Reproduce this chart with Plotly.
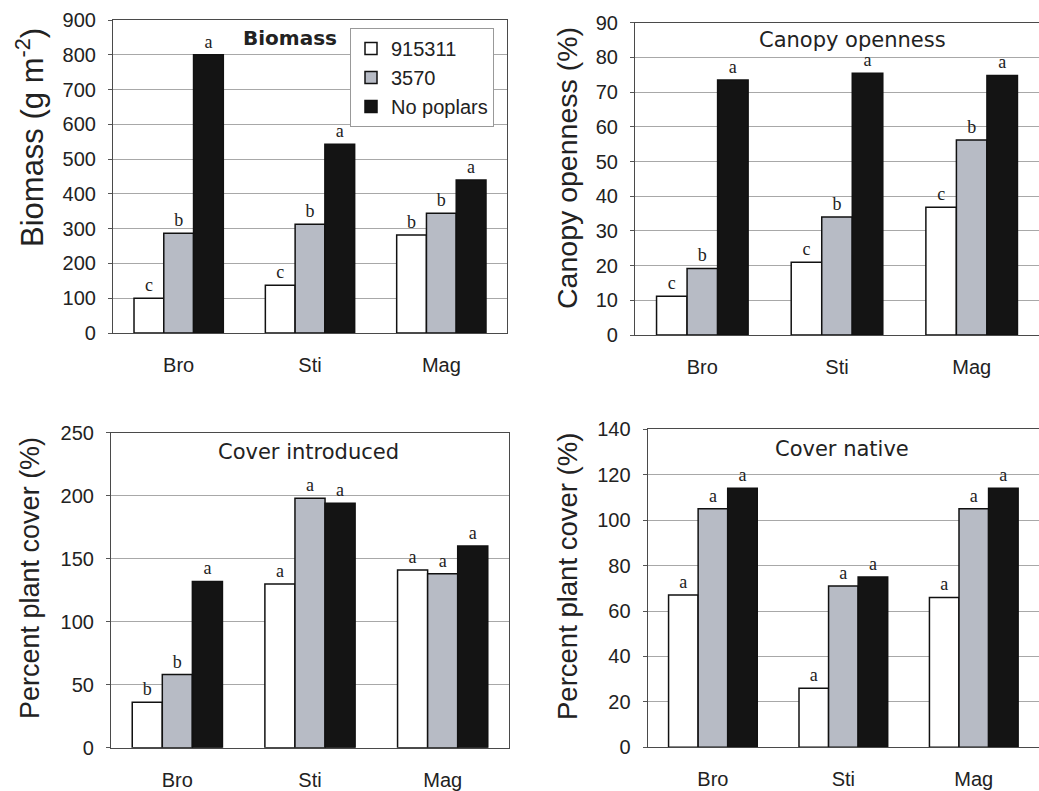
import plotly.graph_objects as go

# ---------------- data ----------------
categories = ["Bro", "Sti", "Mag"]
series_names = ["915311", "3570", "No poplars"]

biomass_915311 = [100, 137, 282]
biomass_3570 = [287, 313, 344]
biomass_nopoplars = [800, 543, 440]
biomass_letters_915311 = ["c", "c", "b"]
biomass_letters_3570 = ["b", "b", "b"]
biomass_letters_nopoplars = ["a", "a", "a"]

canopy_915311 = [11.2, 21, 36.8]
canopy_3570 = [19.2, 34, 56.2]
canopy_nopoplars = [73.5, 75.4, 74.8]
canopy_letters_915311 = ["c", "c", "c"]
canopy_letters_3570 = ["b", "b", "b"]
canopy_letters_nopoplars = ["a", "a", "a"]

intro_915311 = [36, 130, 141]
intro_3570 = [58, 198, 138]
intro_nopoplars = [132, 194, 160]
intro_letters_915311 = ["b", "a", "a"]
intro_letters_3570 = ["b", "a", "a"]
intro_letters_nopoplars = ["a", "a", "a"]

native_915311 = [67, 26, 66]
native_3570 = [105, 71, 105]
native_nopoplars = [114, 75, 114]
native_letters_915311 = ["a", "a", "a"]
native_letters_3570 = ["a", "a", "a"]
native_letters_nopoplars = ["a", "a", "a"]

panel_titles = ["Biomass", "Canopy openness", "Cover introduced", "Cover native"]
y_titles = ["Biomass (g m<sup>-2</sup>)", "Canopy openness (%)",
            "Percent plant cover (%)", "Percent plant cover (%)"]
y_ranges = [[0, 900], [0, 90], [0, 250], [0, 140]]
y_dticks = [100, 10, 50, 20]

# ---------------- style ----------------
W, H = 1039, 791
fills = ["#ffffff", "#b7bbc5", "#141414"]
TICKFONT = dict(family="Liberation Sans, Arial, sans-serif", size=20, color="#222")
LETTERFONT = dict(family="Liberation Serif, Times New Roman, serif", size=18, color="#222")

# panel pixel boxes: (left, right, top, bottom)
boxes = [(113, 507, 20, 333), (635, 1039, 22.7, 335),
         (111, 509, 432.7, 747.7), (647.7, 1039, 429.3, 747.3)]

panels = [
    ([biomass_915311, biomass_3570, biomass_nopoplars],
     [biomass_letters_915311, biomass_letters_3570, biomass_letters_nopoplars]),
    ([canopy_915311, canopy_3570, canopy_nopoplars],
     [canopy_letters_915311, canopy_letters_3570, canopy_letters_nopoplars]),
    ([intro_915311, intro_3570, intro_nopoplars],
     [intro_letters_915311, intro_letters_3570, intro_letters_nopoplars]),
    ([native_915311, native_3570, native_nopoplars],
     [native_letters_915311, native_letters_3570, native_letters_nopoplars]),
]

fig = go.Figure()
layout = dict(width=W, height=H,
              margin=dict(l=0, r=0, t=0, b=0, pad=0, autoexpand=False),
              paper_bgcolor="white", plot_bgcolor="white",
              barmode="group", bargap=0.32, bargroupgap=0,
              showlegend=True)

annotations = []
for i, ((vals, letters), box) in enumerate(zip(panels, boxes)):
    n = "" if i == 0 else str(i + 1)
    xa, ya = "x" + n, "y" + n
    for s in range(3):
        fig.add_trace(go.Bar(
            x=categories, y=vals[s], name=series_names[s],
            text=letters[s], textposition="outside", cliponaxis=False,
            textfont=LETTERFONT,
            marker=dict(color=fills[s], line=dict(color="#111", width=1.5)),
            xaxis=xa, yaxis=ya, showlegend=(i == 0), legendgroup=series_names[s],
        ))
    l, r, t, b = box
    layout["xaxis" + n] = dict(
        domain=[l / W, min(r / W, 1.0)], anchor=ya,
        showline=True, mirror=True, linecolor="#4a4a4a", linewidth=1.2,
        ticks="", tickfont=TICKFONT, ticklabelstandoff=14, showgrid=False,
    )
    layout["yaxis" + n] = dict(
        domain=[1 - b / H, 1 - t / H], anchor=xa,
        range=y_ranges[i], dtick=y_dticks[i], tick0=0,
        showline=True, mirror=True, linecolor="#4a4a4a", linewidth=1.2,
        ticks="outside", ticklen=4, tickcolor="#555",
        tickfont=TICKFONT, ticklabelstandoff=8,
        showgrid=True, gridcolor="#a8a8a8", gridwidth=1, zeroline=False,
    )

# y-axis titles (pixel centres) and sizes
ytitle_pos = [(30, 138), (567, 168), (30, 578), (567, 577)]
ytitle_size = [31, 28.5, 27, 27.5]
for (px, py), txt, fs in zip(ytitle_pos, y_titles, ytitle_size):
    annotations.append(dict(
        text=txt, x=px / W, y=1 - py / H, xref="paper", yref="paper",
        xanchor="center", yanchor="middle", textangle=-90, showarrow=False,
        font=dict(family="Liberation Sans, Arial, sans-serif", size=fs, color="#222"),
    ))

# panel titles
ptitle_pos = [(290, 38), (852, 40), (308, 452), (842, 449)]
for k, ((px, py), txt) in enumerate(zip(ptitle_pos, panel_titles)):
    annotations.append(dict(
        text=("<b>%s</b>" % txt) if k == 0 else txt,
        x=px / W, y=1 - py / H, xref="paper", yref="paper",
        xanchor="center", yanchor="middle", showarrow=False,
        font=dict(family="DejaVu Sans, sans-serif", size=20 if k == 0 else 21, color="#222"),
    ))

layout["annotations"] = annotations
layout["legend"] = dict(
    x=350 / W, y=1 - 28 / H, xanchor="left", yanchor="top",
    bgcolor="white", bordercolor="#999", borderwidth=1,
    font=dict(family="Liberation Sans, Arial, sans-serif", size=20, color="#222"),
    itemwidth=30, tracegroupgap=0,
)

fig.update_layout(**layout)
fig.write_html("out.html", config={"displayModeBar": False},
               post_script="document.body.style.margin='0px';")
